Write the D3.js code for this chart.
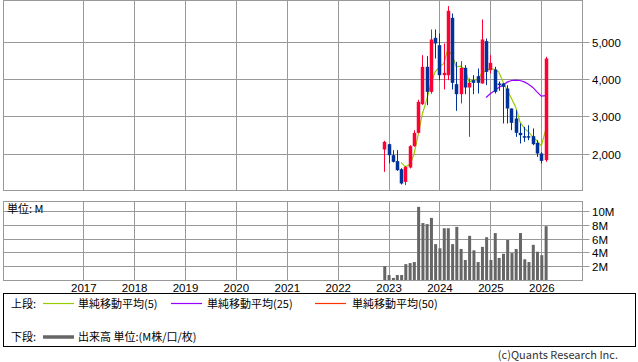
<!DOCTYPE html>
<html><head><meta charset="utf-8">
<script src="https://cdn.jsdelivr.net/npm/d3@7"></script>
<style>
body{margin:0;background:#fff}
svg{display:block}
text{font-family:"Noto Sans CJK JP","Noto Sans",sans-serif;font-size:11px;fill:#000}
text.num{font-family:"Liberation Sans",Arial,sans-serif;font-size:11.5px}
</style>
</head><body>
<svg id="c" width="638" height="362"></svg>
<script>
const months = ["2022-12","2023-01","2023-02","2023-03","2023-04","2023-05","2023-06","2023-07","2023-08","2023-09","2023-10","2023-11","2023-12",
"2024-01","2024-02","2024-03","2024-04","2024-05","2024-06","2024-07","2024-08","2024-09","2024-10","2024-11","2024-12",
"2025-01","2025-02","2025-03","2025-04","2025-05","2025-06","2025-07","2025-08","2025-09","2025-10","2025-11","2025-12",
"2026-01","2026-02"];
const openP  = [2107,2250,1955,1795,1580,1240,1626,2197,2553,3322,4321,3651,5098,4902,4098,4098,5634,3857,3589,4294,3768,3964,4071,3875,5009,4232,4250,3875,3875,3741,3206,2938,2553,2464,2464,2464,2285,2000,1822];
const highP  = [2339,2260,2089,2089,1607,1660,2223,2625,3440,4634,4607,5322,5322,5215,4947,5947,5750,4455,4473,4366,4010,4098,4277,5590,5081,4634,4321,3930,3884,3830,3206,3161,2804,2714,2759,2670,2357,2036,4590];
const lowP   = [1508,1733,1760,1535,1170,1152,1600,2180,2540,3300,3295,3600,4545,3964,3715,3964,3715,3143,3340,3589,2446,3589,3607,3875,3830,4143,3607,3680,2804,2804,2625,2446,2268,2312,2357,2223,1910,1733,1776];
const closeP = [2312,1955,1776,1554,1197,1642,2197,2553,3383,4321,3651,5054,4947,4098,4160,5821,3893,3589,4294,3768,3893,3893,3893,5054,4187,4428,3651,3830,3786,3206,2821,2553,2491,2429,2429,2250,2000,1803,4545];
const volumeM = [2.0,0.72,0.3,0.72,0.72,2.3,2.45,2.6,10.6,8.25,8.1,9.0,5.2,4.6,7.5,7.5,5.2,7.7,4.5,2.9,6.4,4.3,2.6,4.8,6.2,2.9,6.8,3.2,3.8,5.8,3.9,4.5,6.8,3.0,2.6,5.1,4.1,3.6,7.8];
const ma5Start = 4;
const ma5 = [1760,1642,1706,1955,2500,3072,3429,3876,4187,4321,4411,4787,4634,4321,4339,4251,3919,3964,3983,4160,4213,4278,4251,4187,3919,3696,3474,3249,2847,2671,2580,2446,2338,2204,2625];
const ma25Start = 24;
const ma25 = [3501,3608,3678,3769,3830,3911,3956,3964,3956,3919,3857,3769,3651,3536,3549];
const yearTicks = [2017,2018,2019,2020,2021,2022,2023,2024,2025,2026];
const priceTicks = [2000,3000,4000,5000];
const volTicks = [2,4,6,8,10];

const parse = d3.timeParse("%Y-%m");
const dates = months.map(parse);
const svg = d3.select("#c");
const L = 3.5, R = 582.5;
const pTop = 0.5, pBot = 190.5, vTop = 201.5, vBot = 280.5;
const gridC = "#999";

const x = d3.scaleTime().domain([new Date(2017,0,1), new Date(2026,0,1)]).range([83.3, 541.3]);
const yP = d3.scaleLinear().domain([2000,5000]).range([153.5, 41.5]);
const yV = d3.scaleLinear().domain([0,10]).range([280, 211]);

function panel(top, bot, hTicks, yScale){
  const g = svg.append("g");
  yearTicks.forEach(yr=>{
    const xx = Math.round(x(new Date(yr,0,1)))+0.5;
    g.append("line").attr("x1",xx).attr("x2",xx).attr("y1",top).attr("y2",bot).attr("stroke",gridC);
  });
  hTicks.forEach(t=>{
    const yy = Math.round(yScale(t))+0.5;
    g.append("line").attr("x1",L).attr("x2",R+7).attr("y1",yy).attr("y2",yy).attr("stroke",gridC);
  });
  g.append("rect").attr("x",L).attr("y",top).attr("width",R-L).attr("height",bot-top)
    .attr("fill","none").attr("stroke",gridC);
}
panel(pTop,pBot,priceTicks,yP);
panel(vTop,vBot,volTicks,yV);

const fmt = d3.format(",");
priceTicks.forEach(t=>{
  svg.append("text").attr("class","num").attr("x",592).attr("y",Math.round(yP(t))+4.5).text(fmt(t));
});
volTicks.forEach(t=>{
  svg.append("text").attr("class","num").attr("x",592).attr("y",Math.round(yV(t))+4.5).text(t+"M");
});
yearTicks.forEach(yr=>{
  svg.append("text").attr("class","num").attr("x",x(new Date(yr,0,1))+0.5).attr("y",292).attr("text-anchor","middle").text(yr);
});
svg.append("text").attr("x",7).attr("y",212.5).text("単位: M");

const lineGen = d3.line().x(d=>x(d[0])).y(d=>yP(d[1]));
svg.append("path").datum(ma5.map((v,i)=>[dates[i+ma5Start],v]))
  .attr("d",lineGen).attr("fill","none").attr("stroke","#99cc00").attr("stroke-width",1.2);
svg.append("path").datum(ma25.map((v,i)=>[dates[i+ma25Start],v]))
  .attr("d",lineGen).attr("fill","none").attr("stroke","#9900ff").attr("stroke-width",1.2);

const up = "#ff0033", dn = "#003399";
dates.forEach((d,i)=>{
  const o=openP[i], c=closeP[i], col = c>=o?up:dn;
  const xx = Math.round(x(d))+0.5;
  svg.append("line").attr("x1",xx).attr("x2",xx).attr("y1",yP(highP[i])).attr("y2",yP(lowP[i]))
    .attr("stroke",col).attr("stroke-width",1);
  const y1 = yP(Math.max(o,c)), y2 = yP(Math.min(o,c));
  svg.append("rect").attr("x",xx-1.75).attr("width",3.5).attr("y",y1).attr("height",Math.max(1.5,y2-y1)).attr("fill",col);
});

dates.forEach((d,i)=>{
  const xx = x(d)+0.5;
  svg.append("rect").attr("x",xx-1.5).attr("width",3).attr("y",yV(volumeM[i])).attr("height",yV(0)-yV(volumeM[i])).attr("fill","#666");
});

svg.append("rect").attr("x",3.5).attr("y",293.5).attr("width",632).attr("height",53).attr("fill","none").attr("stroke","#000");
svg.append("text").attr("x",11).attr("y",307.5).text("上段:");
svg.append("text").attr("x",11).attr("y",341).text("下段:");
const leg = [["#99cc00",43,78,"単純移動平均(5)"],["#9900ff",171,207,"単純移動平均(25)"],["#ff3300",315,352,"単純移動平均(50)"]];
leg.forEach(l=>{
  svg.append("line").attr("x1",l[1]).attr("x2",l[1]+31).attr("y1",303.5).attr("y2",303.5).attr("stroke",l[0]).attr("stroke-width",1.2);
  svg.append("text").attr("x",l[2]).attr("y",307.5).text(l[3]);
});
svg.append("line").attr("x1",43).attr("x2",74).attr("y1",337).attr("y2",337).attr("stroke","#666").attr("stroke-width",3.5);
svg.append("text").attr("x",78).attr("y",341).text("出来高 単位:(M株/口/枚)");
svg.append("text").attr("x",618).attr("y",359).attr("text-anchor","end").style("fill","#333").text("(c)Quants Research Inc.");
</script>
</body></html>
